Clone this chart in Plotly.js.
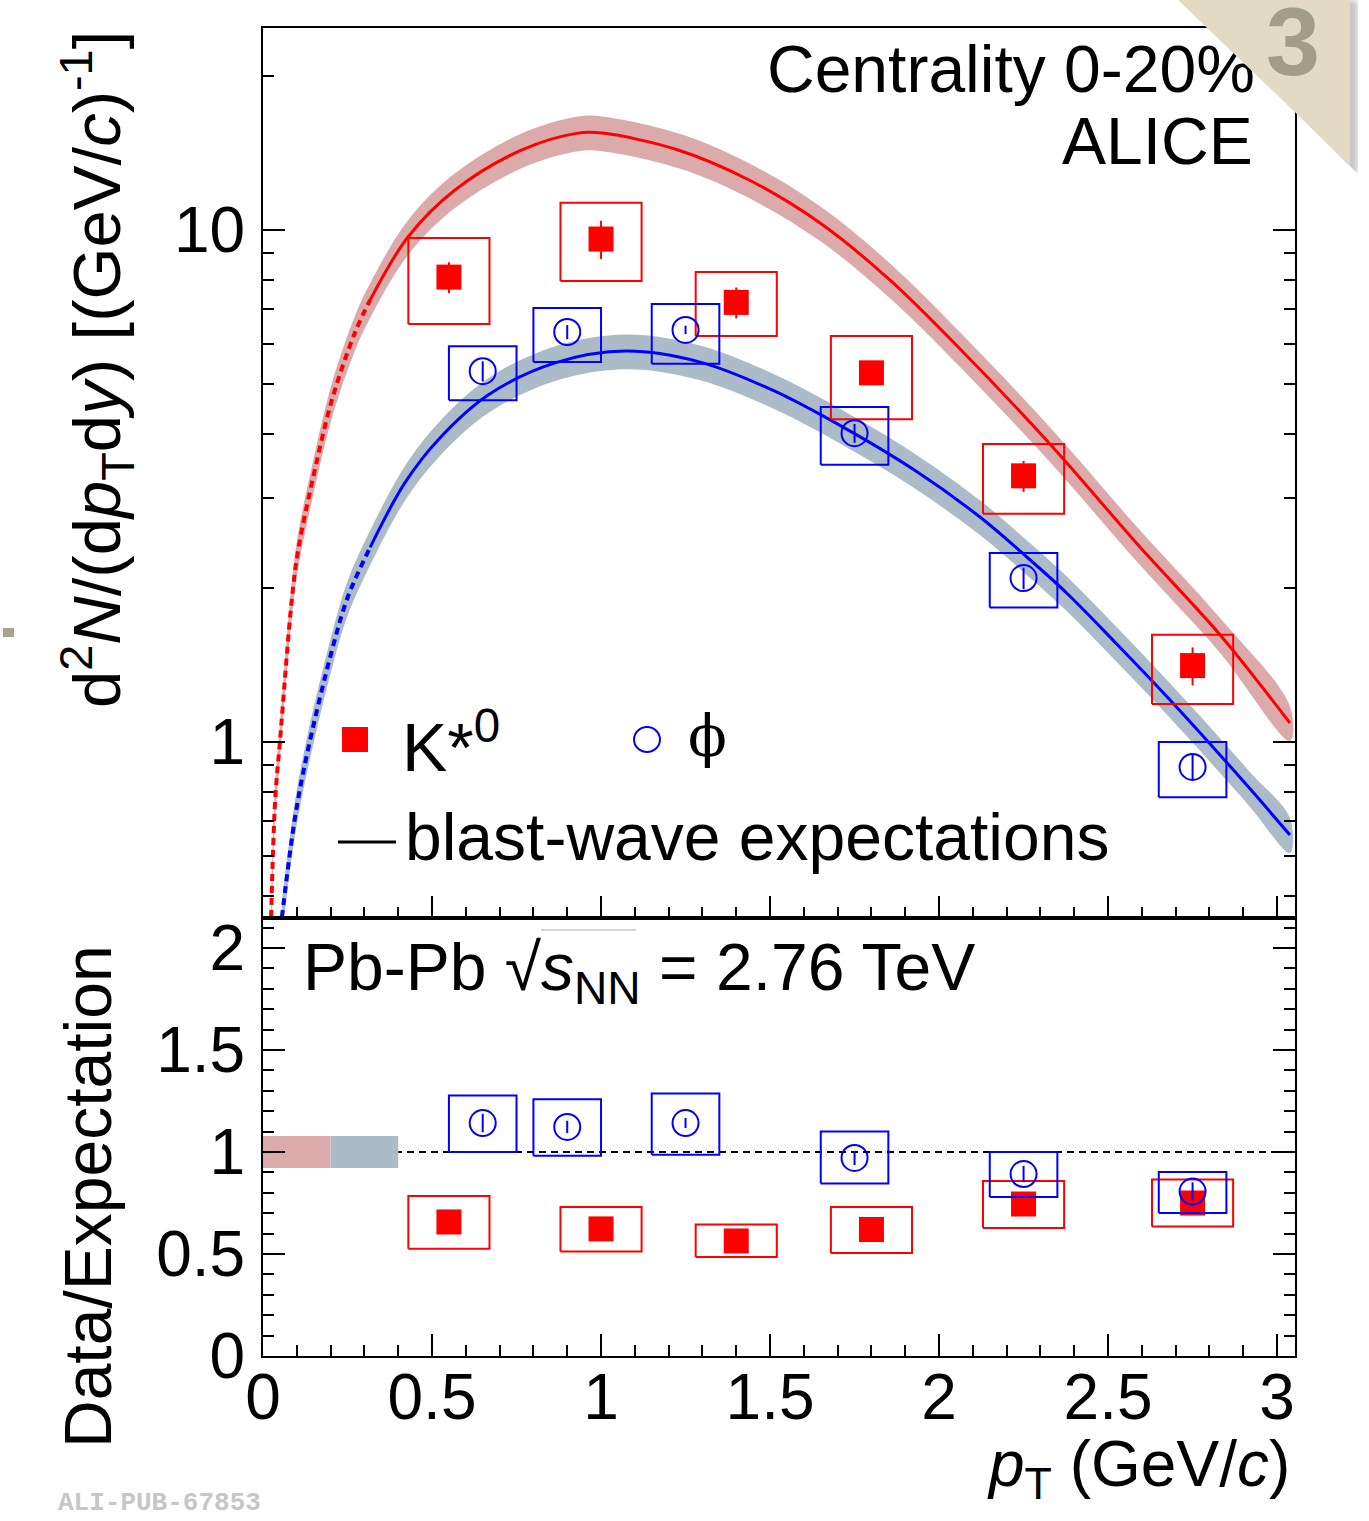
<!DOCTYPE html>
<html>
<head>
<meta charset="utf-8">
<script src="https://cdn.plot.ly/plotly-3.0.1.min.js"></script>
<style>
  body { margin: 0; background: white; }
  #wrap { position: relative; width: 1369px; height: 1521px; overflow: hidden; }
  #plot { width: 1369px; height: 1521px; }
  #cornerShadow { position: absolute; left: 1182px; top: 0; width: 176px; height: 174px;
    background: rgba(0,0,0,0.22); clip-path: polygon(0 0, 100% 0, 100% 100%); filter: blur(3px); }
  #corner { position: absolute; left: 1178px; top: 0; width: 172px; height: 165px;
    background: #e2dac2; clip-path: polygon(0 0, 100% 0, 100% 100%); }
  #cornerNum { position: absolute; left: 1266px; top: -14px; font-family: "Liberation Sans", Arial, sans-serif;
    font-weight: bold; font-size: 97px; color: #a29d88; }
</style>
</head>
<body>
<div id="wrap">
  <div id="plot"></div>
  <div id="cornerShadow"></div>
  <div id="corner"></div>
  <div id="cornerNum">3</div>
</div>
<script>
// ---------------- DATA ----------------
// K*0 spectrum (top panel)
const kX      = [0.55, 1.0, 1.4, 1.8, 2.25, 2.75];
const kY      = [8.09, 9.6, 7.22, 5.26, 3.31, 1.41];
const kStat   = [0.56, 0.82, 0.50, 0.28, 0.23, 0.12];
const kSysLo  = [6.55, 7.95, 6.21, 4.27, 2.79, 1.186];
const kSysHi  = [9.65, 11.3, 8.28, 6.21, 3.82, 1.62];

// phi spectrum (top panel)
const phiX     = [0.65, 0.9, 1.25, 1.75, 2.25, 2.75];
const phiY     = [5.30, 6.32, 6.38, 4.01, 2.09, 0.894];
const phiStat  = [0.24, 0.20, 0.12, 0.17, 0.10, 0.05];
const phiSysLo = [4.65, 5.52, 5.48, 3.48, 1.83, 0.78];
const phiSysHi = [5.93, 7.04, 7.17, 4.51, 2.34, 1.00];

// Data / expectation (bottom panel)
const kRatio       = [0.657, 0.623, 0.564, 0.620, 0.745, 0.750];
const kRatioStat   = [0.03, 0.03, 0.03, 0.03, 0.03, 0.03];
const kRatioSysLo  = [0.526, 0.512, 0.485, 0.505, 0.627, 0.635];
const kRatioSysHi  = [0.784, 0.730, 0.645, 0.730, 0.858, 0.865];
const phiRatio      = [1.142, 1.123, 1.142, 0.971, 0.892, 0.806];
const phiRatioStat  = [0.045, 0.030, 0.025, 0.035, 0.040, 0.045];
const phiRatioSysLo = [1.000, 0.982, 0.987, 0.846, 0.779, 0.701];
const phiRatioSysHi = [1.277, 1.258, 1.287, 1.100, 1.000, 0.902];

// Blast-wave expectations
const bwKX = [0.024, 0.036, 0.050, 0.086, 0.104, 0.145, 0.204, 0.272, 0.317, 0.429, 0.568, 0.766, 0.932, 1.003,
              1.228, 1.438, 1.648, 1.855, 2.065, 2.328, 2.595, 2.831, 3.038];
const bwKY = [0.455, 0.770, 1.00, 1.92, 2.37, 3.21, 4.66, 6.30, 7.30, 9.69, 11.97, 14.33, 15.46, 15.46,
              14.33, 12.52, 10.32, 7.98, 5.83, 3.82, 2.40, 1.62, 1.089];
const bwPhiX = [0.056, 0.095, 0.133, 0.204, 0.251, 0.317, 0.420, 0.518, 0.666, 0.864, 1.074, 1.293, 1.506,
                1.716, 1.926, 2.121, 2.249, 2.379, 2.527, 2.675, 2.802, 2.920, 3.038];
const bwPhiY = [0.455, 0.714, 0.965, 1.51, 1.92, 2.40, 3.21, 3.89, 4.76, 5.50, 5.80, 5.52, 4.87,
                4.12, 3.40, 2.75, 2.33, 1.95, 1.55, 1.224, 0.991, 0.810, 0.658];
const bwFitLow = 0.317;         // below this the expectation is drawn dashed
const bwRelUncK = 0.078;        // relative uncertainty of K*0 expectation
const bwRelUncPhi = 0.078;      // relative uncertainty of phi expectation

// axis ticks
const yTopMajor = [1, 10];
const yTopMajorText = ['1', '10'];
const yTopMinor = [0.5, 0.6, 0.7, 0.8, 0.9, 2, 3, 4, 5, 6, 7, 8, 9, 20];
const yBotMajor = [0, 0.5, 1, 1.5, 2];
const yBotMajorText = ['0', '0.5', '1', '1.5', '2'];
const xMajor = [0, 0.5, 1, 1.5, 2, 2.5, 3];
const xMajorText = ['0', '0.5', '1', '1.5', '2', '2.5', '3'];

// ---------------- STYLE ----------------
const RED = '#ff0000', BLUE = '#0000ff';
const RED_BAND = '#dbaaaa', BLUE_BAND = '#abbcc8';
const FONT = 'Liberation Sans, Arial, Helvetica, sans-serif';
const kHalfW = 0.12, phiHalfW = 0.10;

function boxes(xs, lo, hi, hw) {
  const bx = [], by = [];
  xs.forEach((x, i) => {
    bx.push(x - hw, x + hw, x + hw, x - hw, x - hw, null);
    by.push(lo[i], lo[i], hi[i], hi[i], lo[i], null);
  });
  return {x: bx, y: by};
}
function band(xs, ys, rel) {
  const up = ys.map(v => v * (1 + rel));
  const dn = ys.map(v => v * (1 - rel));
  return {x: xs.concat(xs.slice().reverse()), y: up.concat(dn.slice().reverse())};
}
function split(xs, ys, xcut, below) {
  const ox = [], oy = [];
  xs.forEach((x, i) => { if (below ? x <= xcut + 1e-9 : x >= xcut - 1e-9) { ox.push(x); oy.push(ys[i]); } });
  return {x: ox, y: oy};
}

const traces = [];
const bK = band(bwKX, bwKY, bwRelUncK);
const bP = band(bwPhiX, bwPhiY, bwRelUncPhi);
traces.push({x: bK.x, y: bK.y, xaxis: 'x', yaxis: 'y', mode: 'lines', fill: 'toself', fillcolor: RED_BAND,
             line: {width: 0, shape: 'spline', smoothing: 1}, hoverinfo: 'skip'});
traces.push({x: bP.x, y: bP.y, xaxis: 'x', yaxis: 'y', mode: 'lines', fill: 'toself', fillcolor: BLUE_BAND,
             line: {width: 0, shape: 'spline', smoothing: 1}, hoverinfo: 'skip'});
[[bwKX, bwKY, RED], [bwPhiX, bwPhiY, BLUE]].forEach(([xs, ys, c]) => {
  const d = split(xs, ys, bwFitLow, true), s = split(xs, ys, bwFitLow, false);
  traces.push({x: d.x, y: d.y, xaxis: 'x', yaxis: 'y', mode: 'lines', line: {color: c, width: 4, dash: '7px,5px', shape: 'spline'}});
  traces.push({x: s.x, y: s.y, xaxis: 'x', yaxis: 'y', mode: 'lines', line: {color: c, width: 3, shape: 'spline'}});
});

// top panel points
const kb = boxes(kX, kSysLo, kSysHi, kHalfW);
traces.push({x: kb.x, y: kb.y, xaxis: 'x', yaxis: 'y', mode: 'lines', line: {color: RED, width: 2}});
traces.push({x: kX, y: kY, xaxis: 'x', yaxis: 'y', mode: 'markers',
             marker: {symbol: 'square', size: 25, color: RED},
             error_y: {type: 'data', array: kStat, color: RED, thickness: 2, width: 0}});
const pb = boxes(phiX, phiSysLo, phiSysHi, phiHalfW);
traces.push({x: pb.x, y: pb.y, xaxis: 'x', yaxis: 'y', mode: 'lines', line: {color: BLUE, width: 2}});
traces.push({x: phiX, y: phiY, xaxis: 'x', yaxis: 'y', mode: 'markers',
             marker: {symbol: 'circle-open', size: 26, color: BLUE, line: {width: 2, color: BLUE}},
             error_y: {type: 'data', array: phiStat, color: BLUE, thickness: 2, width: 0}});

// bottom panel
const krb = boxes(kX, kRatioSysLo, kRatioSysHi, kHalfW);
traces.push({x: krb.x, y: krb.y, xaxis: 'x2', yaxis: 'y2', mode: 'lines', line: {color: RED, width: 2}});
traces.push({x: kX, y: kRatio, xaxis: 'x2', yaxis: 'y2', mode: 'markers',
             marker: {symbol: 'square', size: 25, color: RED},
             error_y: {type: 'data', array: kRatioStat, color: RED, thickness: 2, width: 0}});
const prb = boxes(phiX, phiRatioSysLo, phiRatioSysHi, phiHalfW);
traces.push({x: prb.x, y: prb.y, xaxis: 'x2', yaxis: 'y2', mode: 'lines', line: {color: BLUE, width: 2}});
traces.push({x: phiX, y: phiRatio, xaxis: 'x2', yaxis: 'y2', mode: 'markers',
             marker: {symbol: 'circle-open', size: 26, color: BLUE, line: {width: 2, color: BLUE}},
             error_y: {type: 'data', array: phiRatioStat, color: BLUE, thickness: 2, width: 0}});

// ---------------- LAYOUT ----------------
const L = 263, R = 1295, T = 28, B = 1356;
const X = px => (px - L) / (R - L);
const Y = py => (B - py) / (B - T);
const topFrac = (B - 918) / (B - T);

const axBase = {showline: true, linecolor: 'black', linewidth: 2, showgrid: false, zeroline: false,
                ticks: 'inside', ticklen: 22, tickwidth: 2, tickcolor: 'black',
                tickfont: {family: FONT, size: 64, color: 'black'}};

const layout = {
  width: 1369, height: 1521,
  margin: {l: L, r: 1369 - R, t: T, b: 1521 - B, pad: 0},
  paper_bgcolor: 'white', plot_bgcolor: 'rgba(0,0,0,0)',
  showlegend: false, hovermode: false,
  font: {family: FONT, color: 'black'},
  xaxis: Object.assign({}, axBase, {domain: [0, 1], anchor: 'y', range: [0, 3.053], mirror: true,
          tickmode: 'array', tickvals: xMajor, ticktext: xMajorText, showticklabels: false,
          minor: {dtick: 0.1, tick0: 0, ticklen: 11, tickwidth: 2, tickcolor: 'black', ticks: 'inside'}}),
  yaxis: Object.assign({}, axBase, {domain: [topFrac, 1], anchor: 'x', type: 'log', range: [-0.3438, 1.3945],
          mirror: 'allticks', tickmode: 'array', tickvals: yTopMajor, ticktext: yTopMajorText, ticklabelstandoff: 3,
          minor: {tickmode: 'array', tickvals: yTopMinor, ticklen: 11, tickwidth: 2, tickcolor: 'black', ticks: 'inside'}}),
  xaxis2: Object.assign({}, axBase, {domain: [0, 1], anchor: 'y2', range: [0, 3.053], mirror: true,
          tickmode: 'array', tickvals: xMajor, ticktext: xMajorText, ticklabelstandoff: -16,
          minor: {dtick: 0.1, tick0: 0, ticklen: 11, tickwidth: 2, tickcolor: 'black', ticks: 'inside'}}),
  yaxis2: Object.assign({}, axBase, {domain: [0, topFrac], anchor: 'x2', range: [0, 2.147],
          mirror: 'allticks', tickmode: 'array', tickvals: yBotMajor, ticktext: yBotMajorText, ticklabelstandoff: 3,
          minor: {dtick: 0.1, tick0: 0, ticklen: 11, tickwidth: 2, tickcolor: 'black', ticks: 'inside'}}),
  shapes: [
    // normalisation uncertainty boxes of the expectations
    {type: 'rect', xref: 'x2', yref: 'y2', x0: 0, x1: 0.2, y0: 1 - bwRelUncK, y1: 1 + bwRelUncK,
     fillcolor: RED_BAND, line: {width: 0}, layer: 'below'},
    {type: 'rect', xref: 'x2', yref: 'y2', x0: 0.2, x1: 0.4, y0: 1 - bwRelUncPhi, y1: 1 + bwRelUncPhi,
     fillcolor: BLUE_BAND, line: {width: 0}, layer: 'below'},
    {type: 'line', xref: 'x2 domain', yref: 'y2', x0: 0, x1: 1, y0: 1, y1: 1,
     line: {color: 'black', width: 2, dash: '7px,5px'}, layer: 'below'},
    // legend symbols
    {type: 'rect', xref: 'paper', yref: 'paper', x0: X(342), x1: X(368), y0: Y(752), y1: Y(727),
     fillcolor: RED, line: {width: 0}},
    {type: 'circle', xref: 'paper', yref: 'paper', x0: X(634), x1: X(660), y0: Y(752), y1: Y(727),
     fillcolor: 'rgba(0,0,0,0)', line: {color: BLUE, width: 2}},
    {type: 'line', xref: 'paper', yref: 'paper', x0: X(338), x1: X(396), y0: Y(842), y1: Y(842),
     line: {color: 'black', width: 3}},
    // sqrt overline
    {type: 'line', xref: 'paper', yref: 'paper', x0: X(541), x1: X(636), y0: Y(930), y1: Y(930),
     line: {color: '#c8c8c8', width: 1.5}},
    // small grey mark at the left edge
    {type: 'rect', xref: 'paper', yref: 'paper', x0: X(3), x1: X(14), y0: Y(637), y1: Y(628),
     fillcolor: '#a8a38e', line: {width: 0}}
  ],
  annotations: [
    {text: 'Centrality 0-20%', xref: 'paper', yref: 'paper', x: X(1257), y: Y(69), xanchor: 'right', yanchor: 'middle',
     showarrow: false, font: {family: FONT, size: 66, color: 'black'}},
    {text: 'ALICE', xref: 'paper', yref: 'paper', x: X(1255), y: Y(141), xanchor: 'right', yanchor: 'middle',
     showarrow: false, font: {family: FONT, size: 66, color: 'black'}},
    {text: 'K*<sup>0</sup>', xref: 'paper', yref: 'paper', x: X(400), y: Y(742), xanchor: 'left', yanchor: 'middle',
     showarrow: false, font: {family: FONT, size: 68, color: 'black'}},
    {text: 'ϕ', xref: 'paper', yref: 'paper', x: X(686), y: Y(736), xanchor: 'left', yanchor: 'middle',
     showarrow: false, font: {family: 'DejaVu Serif, Liberation Serif, serif', size: 57, color: 'black'}},
    {text: 'blast-wave expectations', xref: 'paper', yref: 'paper', x: X(403), y: Y(837), xanchor: 'left', yanchor: 'middle',
     showarrow: false, font: {family: FONT, size: 66, color: 'black'}},
    {text: 'Pb-Pb √<i>s</i><sub>NN</sub> = 2.76 TeV', xref: 'paper', yref: 'paper', x: X(301), y: Y(972),
     xanchor: 'left', yanchor: 'middle', showarrow: false, font: {family: FONT, size: 66, color: 'black'}},
    {text: 'd<sup>2</sup><i>N</i>/(d<i>p</i><sub>T</sub>d<i>y</i>) [(GeV/<i>c</i>)<sup>-1</sup>]', xref: 'paper', yref: 'paper',
     x: X(97), y: Y(370), xanchor: 'center', yanchor: 'middle', textangle: -90,
     showarrow: false, font: {family: FONT, size: 67, color: 'black'}},
    {text: 'Data/Expectation', xref: 'paper', yref: 'paper', x: X(88), y: Y(1197), xanchor: 'center', yanchor: 'middle',
     textangle: -90, showarrow: false, font: {family: FONT, size: 66, color: 'black'}},
    {text: '<i>p</i><sub>T</sub> (GeV/<i>c</i>)', xref: 'paper', yref: 'paper', x: X(1292), y: Y(1468),
     xanchor: 'right', yanchor: 'middle', showarrow: false, font: {family: FONT, size: 64, color: 'black'}},
    {text: '<b>ALI-PUB-67853</b>', xref: 'paper', yref: 'paper', x: X(56), y: Y(1503), xanchor: 'left', yanchor: 'middle',
     showarrow: false, font: {family: 'Liberation Mono, DejaVu Sans Mono, monospace', size: 26, color: '#c6c6c6'}}
  ]
};

Plotly.newPlot('plot', traces, layout, {staticPlot: true, displayModeBar: false});
</script>
</body>
</html>
